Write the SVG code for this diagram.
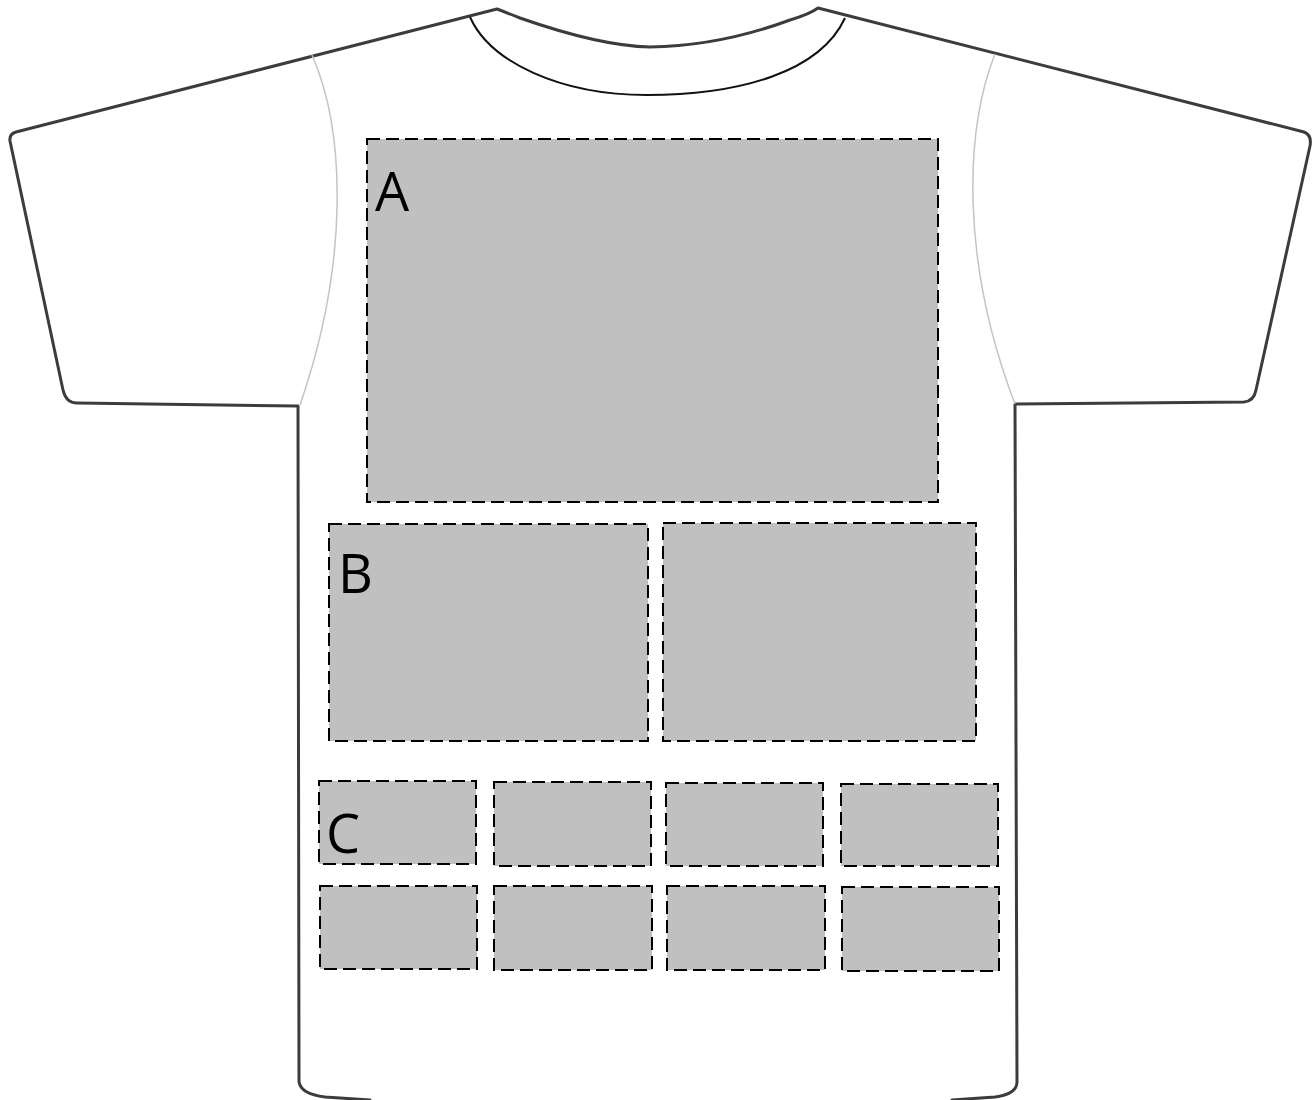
<svg xmlns="http://www.w3.org/2000/svg" width="1314" height="1100" viewBox="0 0 1314 1100">
<style>
.shirt{fill:#fff;stroke:#3c3c3c;stroke-width:3;stroke-linejoin:round}
.collar{fill:none;stroke:#111;stroke-width:2}
.seam{fill:none;stroke:#c4c4c4;stroke-width:1.5}
.area{fill:#c0c0c0;stroke:#000;stroke-width:2;stroke-dasharray:13 6}
.lbl{font-family:"Open Sans","Liberation Sans",sans-serif;font-size:54px;fill:#000}
</style>
<rect width="1314" height="1100" fill="#fff"/>
<g id="shirt">
<path class="shirt" d="M497,9 L16,132 Q9,134 10,141 L63,390 Q66,403 77,403 L298,406 L299,1082 Q301,1094 325,1097 L370,1100 L372,1112 L950,1112 L952,1100 L995,1097 Q1017,1094 1017,1082 L1015,404 L1244,402 Q1254,401 1256,390 L1310,146 Q1312,135 1304,132 L818,8 Q810,14 790,20 Q720,46 650,47 Q600,46 520,18 Q505,12 497,9 Z"/>
<path class="collar" d="M470,17 C490,62 560,95 647,95 C740,95 820,72 845,18"/>
<path class="seam" d="M312,55 C345,130 350,260 300,405"/>
<path class="seam" d="M995,54 C965,130 960,260 1015,404"/>
</g>
<g id="area-A">
<rect class="area" x="367" y="139" width="571" height="363"/>
<text class="lbl" x="375" y="211">A</text>
</g>
<g id="area-B1">
<rect class="area" x="329" y="524" width="319" height="217"/>
<text class="lbl" x="338" y="593">B</text>
</g>
<g id="area-B2">
<rect class="area" x="663" y="523" width="313" height="218"/>
</g>
<g id="area-C1">
<rect class="area" x="319" y="781" width="157" height="83"/>
<text class="lbl" x="326" y="853">C</text>
</g>
<g id="area-C2"><rect class="area" x="494" y="782" width="157" height="84"/></g>
<g id="area-C3"><rect class="area" x="666" y="783" width="157" height="83"/></g>
<g id="area-C4"><rect class="area" x="841" y="784" width="157" height="82"/></g>
<g id="area-C5"><rect class="area" x="320" y="886" width="157" height="83"/></g>
<g id="area-C6"><rect class="area" x="494" y="886" width="158" height="84"/></g>
<g id="area-C7"><rect class="area" x="667" y="886" width="158" height="84"/></g>
<g id="area-C8"><rect class="area" x="842" y="887" width="157" height="84"/></g>
</svg>
